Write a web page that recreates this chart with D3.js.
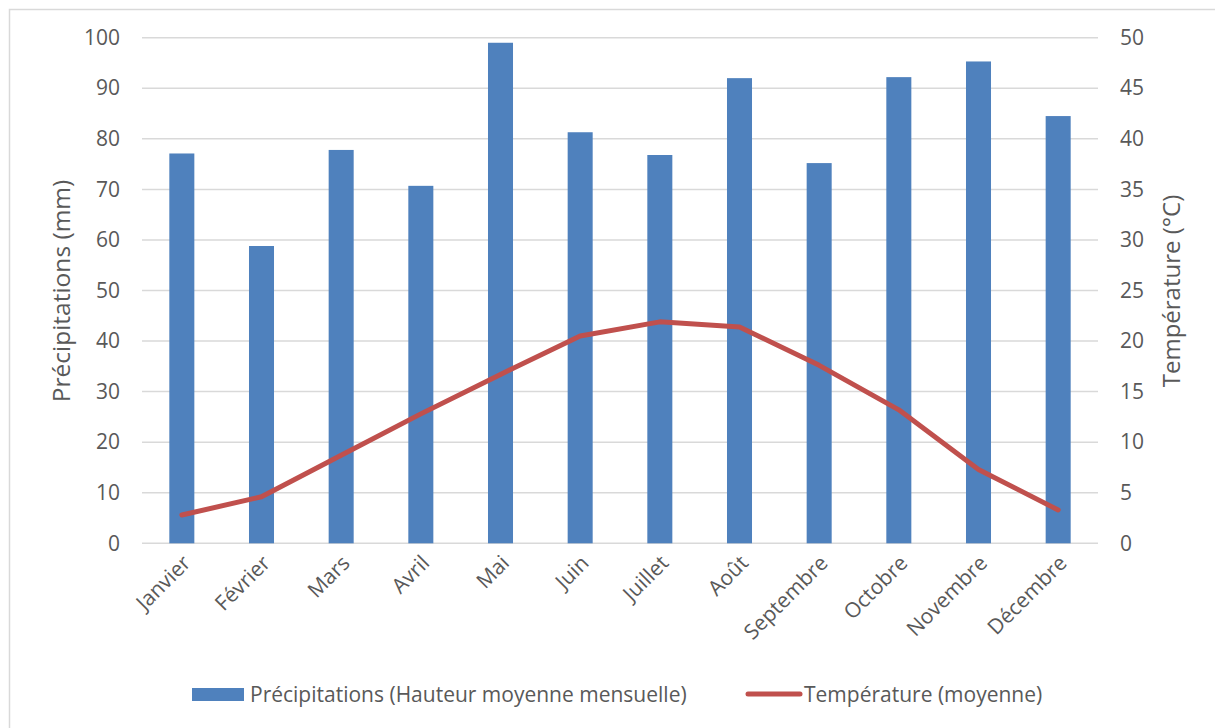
<!DOCTYPE html>
<html><head><meta charset="utf-8">
<script src="https://cdn.jsdelivr.net/npm/d3@7"></script>
<style>body{margin:0;background:#fff;} text{font-family:"Open Sans","Liberation Sans",sans-serif;fill:#595959;}</style>
</head><body>
<svg id="chart" width="1215" height="728"></svg>
<script>
const months = ["Janvier","Février","Mars","Avril","Mai","Juin","Juillet","Août","Septembre","Octobre","Novembre","Décembre"];
const precipitation = [77.1,58.8,77.8,70.7,99.0,81.3,76.8,92.0,75.2,92.2,95.3,84.5];
const temperature = [2.8,4.6,8.7,12.8,16.7,20.5,21.9,21.4,17.6,13.2,7.3,3.3];
const leftTicks = [0,10,20,30,40,50,60,70,80,90,100];
const rightTicks = [0,5,10,15,20,25,30,35,40,45,50];

const svg = d3.select("#chart");
svg.append("rect").attr("x",9.5).attr("y",9.5).attr("width",1300).attr("height",800)
  .attr("fill","#fff").attr("stroke","#D9D9D9").attr("stroke-width",1.5);

const x0 = 142, x1 = 1098, yTop = 37.7, yBot = 543.3;
const x = d3.scaleBand().domain(months).range([x0,x1]).paddingInner(0.686).paddingOuter(0.343);
const yL = d3.scaleLinear().domain([0,100]).range([yBot,yTop]);
const yR = d3.scaleLinear().domain([0,50]).range([yBot,yTop]);

// gridlines
svg.append("g").selectAll("line").data(leftTicks).join("line")
  .attr("x1",x0).attr("x2",x1).attr("y1",d=>yL(d)).attr("y2",d=>yL(d))
  .attr("stroke","#D9D9D9").attr("stroke-width",1.5);

// left axis
const la = svg.append("g").attr("transform",`translate(${x0},0)`)
  .call(d3.axisLeft(yL).tickValues(leftTicks).tickSize(0).tickPadding(22));
la.select(".domain").remove();
la.selectAll("text").style("font-size","21px").attr("fill","#595959");

// right axis
const ra = svg.append("g").attr("transform",`translate(${x1},0)`)
  .call(d3.axisRight(yR).tickValues(rightTicks).tickSize(0).tickPadding(22));
ra.select(".domain").remove();
ra.selectAll("text").style("font-size","21px").attr("fill","#595959");

// bars
svg.append("g").selectAll("rect").data(precipitation).join("rect")
  .attr("x",(d,i)=>x(months[i])).attr("width",x.bandwidth())
  .attr("y",d=>yL(d)).attr("height",d=>yBot-yL(d))
  .attr("fill","#4F81BD");

// line
const line = d3.line().x((d,i)=>x(months[i])+x.bandwidth()/2).y(d=>yR(d));
svg.append("path").datum(temperature).attr("d",line)
  .attr("fill","none").attr("stroke","#C0504D").attr("stroke-width",5)
  .attr("stroke-linejoin","round").attr("stroke-linecap","round");

// x axis labels
const xa = svg.append("g").attr("transform",`translate(0,${yBot})`)
  .call(d3.axisBottom(x).tickSize(0).tickPadding(0));
xa.select(".domain").remove();
xa.selectAll("text").style("font-size","21px").attr("fill","#595959")
  .attr("text-anchor","end").attr("dy",null).attr("y",null)
  .attr("transform","translate(10,21) rotate(-45)");

// axis titles
svg.append("text").attr("transform","translate(70,291) rotate(-90)")
  .attr("text-anchor","middle").style("font-size","24.5px").text("Précipitations (mm)");
svg.append("text").attr("transform","translate(1180,291) rotate(-90)")
  .attr("text-anchor","middle").style("font-size","24px").text("Température (°C)");

// legend
const lg = svg.append("g");
lg.append("rect").attr("x",192).attr("y",688).attr("width",52).attr("height",13).attr("fill","#4F81BD");
lg.append("text").attr("x",250).attr("y",702).style("font-size","21px").text("Précipitations (Hauteur moyenne mensuelle)");
lg.append("line").attr("x1",748).attr("x2",800).attr("y1",694).attr("y2",694)
  .attr("stroke","#C0504D").attr("stroke-width",5).attr("stroke-linecap","round");
lg.append("text").attr("x",804).attr("y",702).style("font-size","21px").text("Température (moyenne)");
</script>
</body></html>
